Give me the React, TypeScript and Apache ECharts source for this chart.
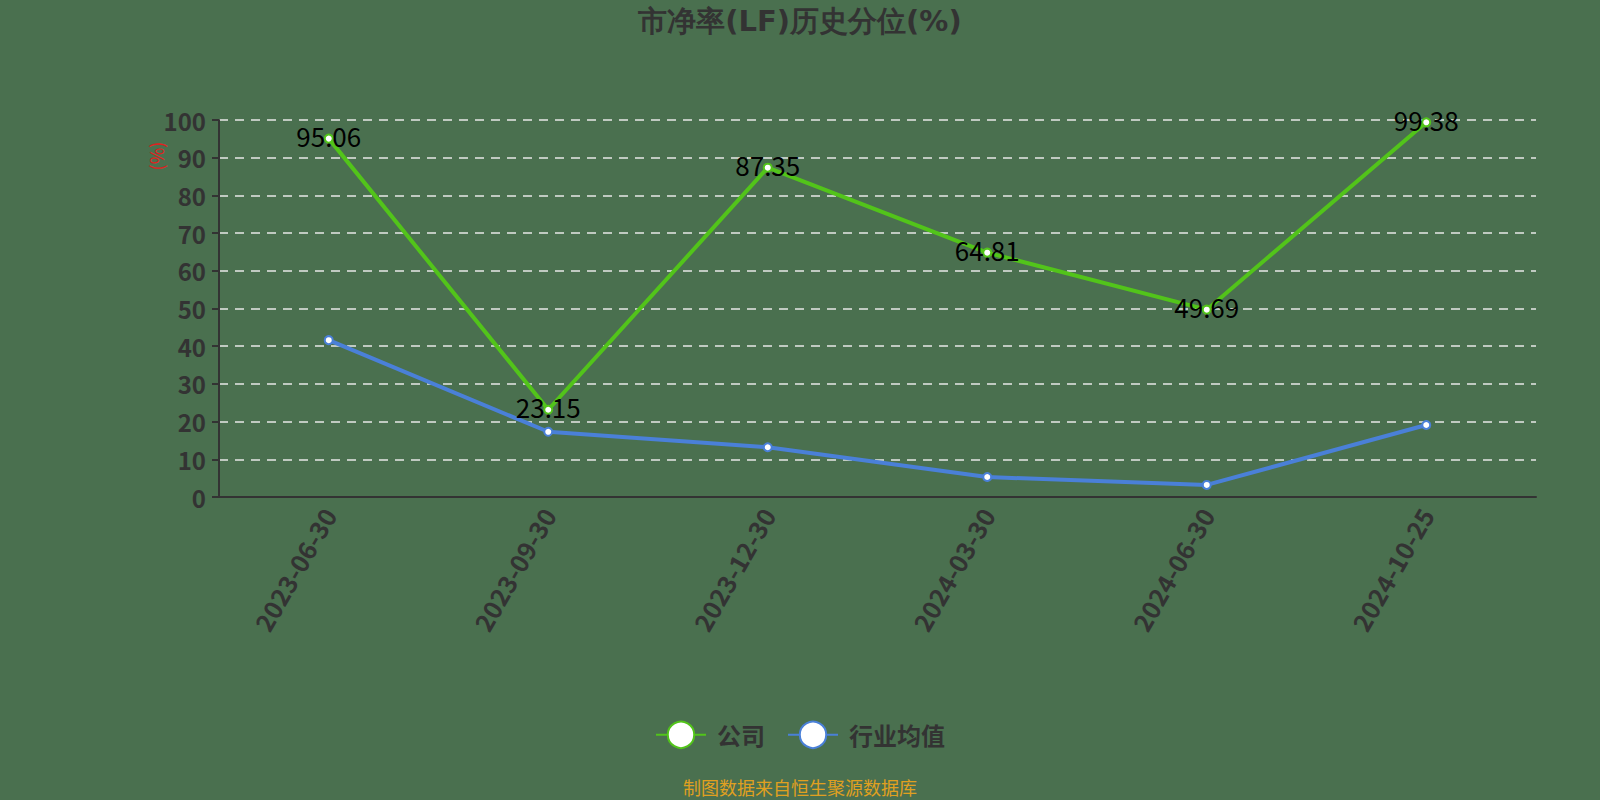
import React, { useEffect, useRef } from "react";
import * as echarts from "echarts";

const categories = ["2023-06-30", "2023-09-30", "2023-12-30", "2024-03-30", "2024-06-30", "2024-10-25"];
const companyValues = [95.06, 23.15, 87.35, 64.81, 49.69, 99.38];
const industryValues = [41.6, 17.3, 13.2, 5.3, 3.2, 19.1];
const titleText = "市净率(LF)历史分位(%)";
const footerText = "制图数据来自恒生聚源数据库";
const seriesNames = ["公司", "行业均值"];

const FONT = "'Noto Sans CJK SC', 'Noto Sans', sans-serif";
const TITLE_FONT = "DejaVu Sans";

export default function App() {
  const ref = useRef<HTMLDivElement>(null);
  useEffect(() => {
    const chart = echarts.init(ref.current!, null, { renderer: "svg" });
    chart.setOption({
      animation: false,
      backgroundColor: "#4a704f",
      title: {
        text: titleText,
        left: "center",
        top: 1,
        textStyle: { fontSize: 29, fontWeight: "bold", color: "#333", fontFamily: TITLE_FONT },
      },
      legend: {
        data: seriesNames,
        bottom: 46,
        left: "center",
        itemWidth: 50,
        itemHeight: 33,
        itemGap: 22,
        textStyle: {
          fontSize: 24,
          fontWeight: "bold",
          color: "#333",
          fontFamily: FONT,
          padding: [0, 0, 0, 6],
        },
      },
      grid: { left: 219, right: 64, top: 120, bottom: 303 },
      xAxis: {
        type: "category",
        data: categories,
        boundaryGap: true,
        axisLine: { lineStyle: { color: "#333", width: 2 } },
        axisTick: { length: 7, lineStyle: { color: "#333", width: 2 } },
        axisLabel: {
          rotate: 60,
          fontSize: 25,
          fontWeight: "bold",
          color: "#333",
          margin: 13,
          fontFamily: FONT,
        },
      },
      yAxis: {
        type: "value",
        min: 0,
        max: 100,
        interval: 10,
        axisLine: { show: true, lineStyle: { color: "#333", width: 2 } },
        axisTick: { show: true, length: 7, lineStyle: { color: "#333", width: 2 } },
        axisLabel: { fontSize: 24, fontWeight: "bold", color: "#333", margin: 13, fontFamily: FONT },
        splitLine: { lineStyle: { color: "#e8e8e8", type: [9, 7], width: 1.5 } },
      },
      graphic: [
        {
          type: "text",
          x: 156,
          y: 156,
          rotation: Math.PI / 2,
          style: {
            text: "(%)",
            fontSize: 18,
            fontFamily: FONT,
            fill: "#e02020",
            align: "center",
            verticalAlign: "middle",
          },
        },
        {
          type: "text",
          left: "center",
          top: 778,
          style: {
            text: footerText,
            fontSize: 18,
            fontFamily: FONT,
            fill: "#e0a020",
          },
        },
      ],
      series: [
        {
          name: seriesNames[0],
          type: "line",
          data: companyValues,
          symbol: "circle",
          symbolSize: 8,
          lineStyle: { color: "#52c41a", width: 4 },
          itemStyle: { color: "#ffffff", borderColor: "#52c41a", borderWidth: 2 },
          label: {
            show: true,
            position: "inside",
            offset: [0, -3],
            fontSize: 26,
            color: "#000",
            fontFamily: FONT,
          },
          z: 3,
        },
        {
          name: seriesNames[1],
          type: "line",
          data: industryValues,
          symbol: "circle",
          symbolSize: 8,
          lineStyle: { color: "#4a80d8", width: 4 },
          itemStyle: { color: "#ffffff", borderColor: "#4a80d8", borderWidth: 2 },
          z: 2,
        },
      ],
    });
    return () => chart.dispose();
  }, []);
  return (
    <div
      ref={ref}
      style={{ position: "fixed", left: 0, top: 0, width: 1600, height: 800 }}
    />
  );
}
